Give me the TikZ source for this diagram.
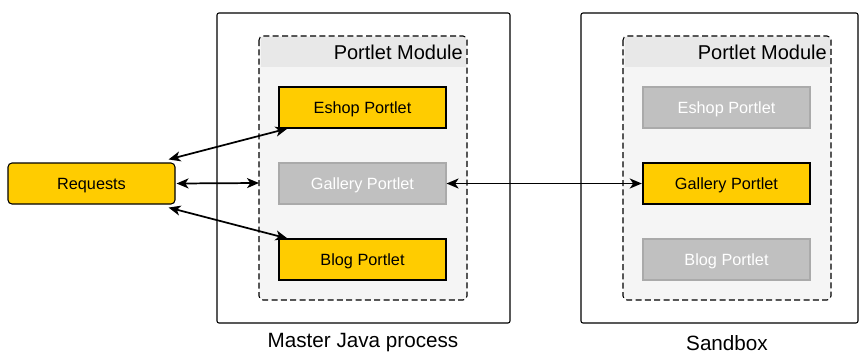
\documentclass[tikz,border=0pt]{standalone}
\usepackage{fontspec}
\setmainfont{Liberation Sans}
\usetikzlibrary{arrows.meta,calc}
\definecolor{portletYellow}{RGB}{255,204,0}
\definecolor{portletGray}{RGB}{192,192,192}
\definecolor{portletGrayLine}{RGB}{170,170,170}
\definecolor{moduleFill}{RGB}{245,245,245}
\definecolor{moduleHead}{RGB}{232,232,232}
\tikzset{
  active/.style={draw=black, line width=0.8pt, fill=portletYellow, minimum width=125.25pt, minimum height=30.75pt, font=\fontsize{12.2}{14}\selectfont, inner sep=0pt, text depth=0pt},
  inactive/.style={draw=portletGrayLine, line width=0.8pt, fill=portletGray, text=white, minimum width=125.25pt, minimum height=30.75pt, font=\fontsize{12.2}{14}\selectfont, inner sep=0pt, text depth=0pt},
  link/.style={{Stealth[length=9pt,width=7.5pt,inset=2.5pt]}-{Stealth[length=9pt,width=7.5pt,inset=2.5pt]}, line width=1.3pt},
  modborder/.style={draw=black, line width=0.8pt, dash pattern=on 4.5pt off 2.5pt, rounded corners=3pt},
}
\begin{document}
\begin{tikzpicture}[x=0.75pt,y=0.75pt,yscale=-1,xscale=1]
\useasboundingbox (0,0) rectangle (859,354);
% process boxes
\draw[line width=0.8pt, rounded corners=1.5pt] (217,13) rectangle (510,323);
\draw[line width=0.8pt, rounded corners=1.5pt] (581,13) rectangle (858,323);
\draw (363,343) node[font=\fontsize{15.5}{17}\selectfont] {Master Java process};
\draw (727,343) node[font=\fontsize{15.5}{17}\selectfont] {Sandbox};
% portlet modules
\fill[moduleFill, rounded corners=3pt] (259,36) rectangle (467,300);
\fill[moduleHead] (261,37) rectangle (466,67);
\draw[modborder] (259,36) rectangle (467,300);
\draw (463,52) node[anchor=east, inner sep=0pt, font=\fontsize{15}{17}\selectfont] {Portlet Module};
\fill[moduleFill, rounded corners=3pt] (623,36) rectangle (831,300);
\fill[moduleHead] (625,37) rectangle (830,67);
\draw[modborder] (623,36) rectangle (831,300);
\draw (827,52) node[anchor=east, inner sep=0pt, font=\fontsize{15}{17}\selectfont] {Portlet Module};
\coordinate (m1) at (259,183);
% portlets
\node[active] (eshop1) at (362.5,107.5) {Eshop Portlet};
\node[inactive] (gallery1) at (362.5,183.5) {Gallery Portlet};
\node[active] (blog1) at (362.5,259.5) {Blog Portlet};
\node[inactive] (eshop2) at (726.5,107.5) {Eshop Portlet};
\node[active, line width=1.8pt] (gallery2) at (726.5,183.5) {Gallery Portlet};
\node[inactive] (blog2) at (726.5,259.5) {Blog Portlet};
% requests
\node[active, rounded corners=3pt, minimum width=125.25pt] (req) at (91.5,183.5) {Requests};
% arrows
\draw[link] ($(req.north east)+(-7,-3)$) -- ($(eshop1.south west)+(9,0)$);
\draw[link] ($(req.east)+(1,0)$) -- (m1);
\draw[link] ($(req.south east)+(-7,3)$) -- ($(blog1.north west)+(9,0)$);
\draw[link] (gallery1.east) -- (gallery2.west);
\end{tikzpicture}
\end{document}
